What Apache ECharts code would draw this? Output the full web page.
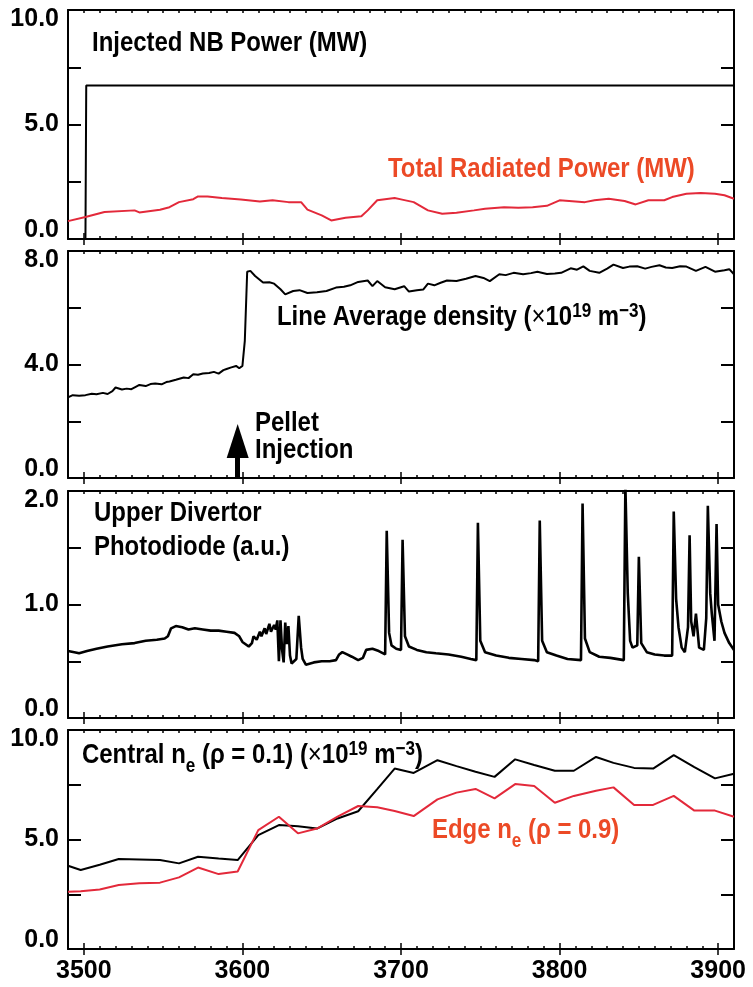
<!DOCTYPE html>
<html><head><meta charset="utf-8">
<script src="https://cdn.jsdelivr.net/npm/echarts@6/dist/echarts.min.js"></script>
<style>html,body{margin:0;padding:0;background:#fff}#c{width:753px;height:987px}</style>
</head><body><div id="c"></div>
<script>
// ---------- data ----------
const xTickLabels = [3500, 3600, 3700, 3800, 3900];

const nbTime  = [3490, 3501, 3501.5, 3910];
const nbPower = [0, 0, 6.7, 6.7];

const radTime  = [3490,3501,3513,3532,3535,3548,3554,3560,3569,3572,3578,3587,3599,3611,3619,3629,3637,3641,3650,3656,3665,3675,3679,3685,3696,3700,3708,3717,3726,3735,3746,3753,3765,3774,3783,3792,3800,3816,3822,3831,3841,3848,3856,3866,3871,3880,3889,3898,3904,3910];
const radPower = [0.78,0.96,1.18,1.25,1.16,1.28,1.39,1.61,1.74,1.86,1.86,1.79,1.72,1.64,1.69,1.61,1.61,1.28,1.03,0.81,0.93,0.99,1.25,1.69,1.79,1.73,1.61,1.25,1.10,1.15,1.25,1.32,1.39,1.36,1.39,1.45,1.69,1.61,1.69,1.76,1.66,1.51,1.69,1.69,1.83,1.98,2.01,1.98,1.91,1.76];

const densTime = [3490,3493,3497,3501,3505,3508,3512,3515,3518,3520,3524,3527,3530,3533,3535,3539,3542,3545,3549,3552,3554,3558,3563,3566,3569,3572,3575,3579,3582,3585,3588,3590,3593,3596,3598,3600,3601.5,3603,3605,3608,3613,3617,3620,3624,3627,3632,3636,3641,3647,3653,3659,3664,3668,3673,3679,3682,3685,3690,3696,3702,3705,3710,3714,3717,3721,3725,3729,3735,3741,3747,3752,3756,3762,3766,3771,3777,3782,3786,3792,3797,3801,3807,3811,3815,3819,3825,3830,3834,3840,3844,3849,3854,3858,3863,3867,3871,3876,3880,3886,3892,3898,3904,3907,3910];
const densVal  = [2.84,2.92,2.90,2.92,2.97,2.95,3.00,2.96,3.06,3.19,3.12,3.15,3.13,3.22,3.28,3.24,3.31,3.33,3.30,3.38,3.40,3.46,3.54,3.52,3.66,3.64,3.68,3.70,3.74,3.68,3.80,3.84,3.90,3.95,3.87,3.95,4.83,7.27,7.30,7.12,6.89,6.90,6.85,6.65,6.47,6.59,6.62,6.52,6.55,6.59,6.71,6.74,6.79,6.91,6.96,6.76,6.94,6.72,6.65,6.76,6.57,6.62,6.64,6.85,6.79,6.88,6.96,6.94,7.02,7.12,7.05,6.94,7.18,7.15,7.23,7.18,7.22,7.27,7.19,7.21,7.23,7.39,7.34,7.46,7.30,7.23,7.38,7.52,7.40,7.45,7.46,7.38,7.44,7.50,7.42,7.40,7.46,7.45,7.30,7.44,7.27,7.32,7.36,7.18];

const pdTime = [3490,3494,3497,3502,3508,3515,3524,3532,3539,3546,3551,3553,3555,3558,3562,3566,3570,3575,3580,3585,3590,3595,3598,3600,3604,3606,3607,3609,3611,3612,3614,3615,3617,3618,3620,3621,3622,3623,3624,3625,3626,3627,3628,3629,3630,3631,3634,3635.5,3637,3638,3640,3645,3650,3655,3659,3661,3663,3666,3669,3673,3676,3678,3682,3686,3690,3691,3692.5,3694,3697,3700,3701,3702.5,3705,3710,3716,3722,3730,3738,3744,3747.5,3748.5,3750,3753,3760,3768,3776,3784,3786.5,3787.5,3789,3792,3798,3805,3813.5,3814.5,3816,3819,3825,3832,3840.5,3841.5,3843,3844.5,3846,3849,3850,3851.5,3855,3860,3866,3871,3872,3873.5,3875,3877,3879,3881,3882,3883,3884.5,3886,3888,3891,3892.5,3893.5,3895,3896,3897.7,3899,3900,3902,3904,3907,3910];
const pdVal  = [0.59,0.58,0.57,0.59,0.61,0.63,0.65,0.66,0.68,0.69,0.70,0.72,0.79,0.81,0.80,0.78,0.79,0.78,0.77,0.77,0.76,0.75,0.72,0.67,0.63,0.66,0.72,0.69,0.76,0.72,0.79,0.74,0.83,0.76,0.82,0.78,0.86,0.50,0.86,0.60,0.49,0.84,0.65,0.81,0.55,0.48,0.52,0.90,0.62,0.52,0.47,0.49,0.50,0.50,0.51,0.56,0.58,0.56,0.54,0.51,0.53,0.60,0.61,0.59,0.56,1.65,0.75,0.64,0.61,0.60,1.57,0.72,0.63,0.60,0.58,0.57,0.56,0.54,0.52,0.51,1.72,0.68,0.58,0.55,0.53,0.52,0.51,0.50,1.74,0.68,0.58,0.55,0.52,0.51,1.89,0.70,0.58,0.54,0.53,0.51,2.05,1.10,0.68,0.62,0.64,1.42,0.66,0.58,0.56,0.55,0.55,1.82,1.05,0.80,0.62,0.58,0.80,1.61,0.85,0.72,0.92,0.62,0.60,0.88,1.87,1.10,0.92,0.68,1.71,1.00,0.85,0.75,0.66,0.60,0.56,0.57];

const neTime    = [3490,3498,3510,3522,3535,3548,3560,3572,3585,3597,3610,3623,3635,3647,3660,3673,3685,3696,3708,3723,3735,3747,3759,3772,3784,3797,3809,3823,3834,3847,3859,3872,3885,3898,3910];
const neCentral = [3.80,3.61,3.85,4.11,4.09,4.06,3.91,4.21,4.13,4.06,5.20,5.66,5.60,5.50,5.96,6.29,7.30,8.24,8.04,8.62,8.35,8.09,7.86,8.66,8.40,8.14,8.14,8.77,8.50,8.27,8.24,8.85,8.30,7.79,8.00];
const neEdge    = [2.61,2.64,2.72,2.92,3.00,3.03,3.27,3.72,3.42,3.54,5.43,6.04,5.28,5.50,6.04,6.53,6.47,6.30,6.07,6.83,7.14,7.31,6.88,7.53,7.44,6.68,6.99,7.23,7.38,6.58,6.58,6.99,6.32,6.32,6.04];

// pellet injection arrow (time, base value, head centre value)
const pelletTime = 3597;
const pelletArrow = [0, 1.3];

// ---------- helpers ----------
const FF = "'Liberation Sans',Arial,sans-serif";
const RED_LINE = '#e3293a';
const RED_TEXT = '#ec4a26';
const zip = (a, b) => a.map((v, i) => [v, b[i]]);

const grids = [
  {top: 10,  height: 229, min: 0, max: 10, interval: 2.5, labels: [0, 5, 10]},
  {top: 251, height: 227, min: 0, max: 8,  interval: 2,   labels: [0, 4, 8]},
  {top: 491, height: 227, min: 0, max: 2,  interval: 0.5, labels: [0, 1, 2]},
  {top: 730, height: 219, min: 0, max: 10, interval: 2.5, labels: [0, 5, 10]}
];

const TL = 25; // tick label font size
const labelRich = {
  mx: {fontSize: TL, fontWeight: 'bold', fontFamily: FF, color: '#000', lineHeight: 18, padding: [18, 0, 0, 0]},
  mn: {fontSize: TL, fontWeight: 'bold', fontFamily: FF, color: '#000', lineHeight: 18, padding: [0, 0, 18, 0]},
  md: {fontSize: TL, fontWeight: 'bold', fontFamily: FF, color: '#000', lineHeight: 18}
};

const xAxes = [], yAxes = [], gridOpts = [];
grids.forEach((g, gi) => {
  gridOpts.push({left: 68, right: 19, top: g.top, height: g.height, containLabel: false, outerBoundsMode: 'none'});
  const baseX = {
    type: 'value', gridIndex: gi, min: 3490, max: 3910, interval: 10,
    splitLine: {show: false}, axisPointer: {show: false}
  };
  xAxes.push(Object.assign({}, baseX, {
    position: 'bottom',
    axisLine: {show: true, onZero: false, lineStyle: {color: '#000', width: 2}},
    axisTick: {show: true, inside: true, length: 3, lineStyle: {color: '#000', width: 1.5}},
    axisLabel: {
      show: gi === 3, margin: 10, fontSize: TL, fontWeight: 'bold', fontFamily: FF, color: '#000',
      hideOverlap: false,
      formatter: v => (Math.abs(v % 100) < 1e-6 ? String(v) : '')
    }
  }));
  xAxes.push(Object.assign({}, baseX, {
    position: 'bottom',
    axisLine: {show: false},
    axisTick: {show: true, inside: true, length: 6, customValues: xTickLabels, lineStyle: {color: '#000', width: 1.5}},
    axisLabel: {show: false}
  }));
  xAxes.push(Object.assign({}, baseX, {
    position: 'top',
    axisLine: {show: true, onZero: false, lineStyle: {color: '#000', width: 2}},
    axisTick: {show: true, inside: true, length: 3, lineStyle: {color: '#000', width: 1.5}},
    axisLabel: {show: false}
  }));
  xAxes.push(Object.assign({}, baseX, {
    position: 'top',
    axisLine: {show: false},
    axisTick: {show: true, inside: true, length: 6, customValues: xTickLabels, lineStyle: {color: '#000', width: 1.5}},
    axisLabel: {show: false}
  }));

  const baseY = {
    type: 'value', gridIndex: gi, min: g.min, max: g.max, interval: g.interval,
    splitLine: {show: false},
    axisLine: {show: true, onZero: false, lineStyle: {color: '#000', width: 2}},
    axisTick: {show: true, inside: true, length: 13, lineStyle: {color: '#000', width: 2}}
  };
  yAxes.push(Object.assign({}, baseY, {
    position: 'left',
    axisLabel: {
      show: true, margin: 9, rich: labelRich, fontSize: TL, fontWeight: 'bold', fontFamily: FF, color: '#000',
      hideOverlap: false,
      formatter: v => {
        if (!g.labels.some(l => Math.abs(l - v) < 1e-9)) return '';
        const t = v.toFixed(1);
        if (Math.abs(v - g.max) < 1e-9) return '{mx|' + t + '}';
        if (Math.abs(v - g.min) < 1e-9) return '{mn|' + t + '}';
        return '{md|' + t + '}';
      }
    }
  }));
  yAxes.push(Object.assign({}, baseY, {position: 'right', axisLabel: {show: false}}));
});

function lineSeries(gi, data, color, extra) {
  return Object.assign({
    type: 'line', xAxisIndex: gi * 4, yAxisIndex: gi * 2, data: data,
    showSymbol: false, symbol: 'none', smooth: false, clip: true, animation: false,
    lineStyle: {color: color, width: 2}, z: 3
  }, extra || {});
}

const series = [
  lineSeries(0, zip(nbTime, nbPower), '#000'),
  lineSeries(0, zip(radTime, radPower), RED_LINE),
  lineSeries(1, zip(densTime, densVal), '#000', {
    markLine: {
      silent: true, animation: false, symbol: ['none', 'triangle'], symbolSize: [22, 34],
      label: {show: false}, emphasis: {disabled: true},
      lineStyle: {color: '#000', width: 5, type: 'solid'},
      itemStyle: {color: '#000'},
      data: [[{coord: [pelletTime, pelletArrow[0]]}, {coord: [pelletTime, pelletArrow[1]]}]]
    }
  }),
  lineSeries(2, zip(pdTime, pdVal), '#000', {lineStyle: {color: '#000', width: 2.6}}),
  lineSeries(3, zip(neTime, neCentral), '#000'),
  lineSeries(3, zip(neTime, neEdge), RED_LINE)
];

// ---------- annotations ----------
const AF = 28;       // annotation font size
const SX = 0.855;    // horizontal condensing to mimic a narrow face
const tr = (c) => ({
  m:   {fontSize: AF, lineHeight: AF, padding: [2, 0, 0, 0], fontWeight: 'bold', fontFamily: FF, fill: c, verticalAlign: 'top'},
  sup: {fontSize: 20, lineHeight: 20, padding: [0, 0, 0, 0], fontWeight: 'bold', fontFamily: FF, fill: c, verticalAlign: 'top'},
  sub: {fontSize: 20, lineHeight: 20, padding: [17, 0, 0, 0], fontWeight: 'bold', fontFamily: FF, fill: c, verticalAlign: 'top'},
  sym: {fontSize: AF, lineHeight: AF, padding: [2, 0, 0, 0], fontWeight: 'normal', fontFamily: FF, fill: c, verticalAlign: 'top'}
});
function txt(x, y, text, color) {
  return {type: 'text', x: x, y: y, scaleX: SX, silent: true, z: 10,
    style: {text: text, rich: tr(color), fill: color, align: 'left', verticalAlign: 'top',
      fontSize: AF, fontWeight: 'bold', fontFamily: FF}};
}
const graphic = [
  txt(92, 27.5, '{m|Injected NB Power (MW)}', '#000'),
  txt(388, 153.5, '{m|Total Radiated Power (MW)}', RED_TEXT),
  txt(277, 301, '{m|Line Average density (}{sym|\u00d7}{m|10}{sup|19}{m| m}{sup|\u22123}{m|)}', '#000'),
  txt(255, 407.5, '{m|Pellet}', '#000'),
  txt(255, 434.5, '{m|Injection}', '#000'),
  txt(94, 497.5, '{m|Upper Divertor}', '#000'),
  txt(94, 531.5, '{m|Photodiode (a.u.)}', '#000'),
  txt(82, 739.5, '{m|Central n}{sub|e}{m| (\u03c1 = 0.1) (}{sym|\u00d7}{m|10}{sup|19}{m| m}{sup|\u22123}{m|)}', '#000'),
  txt(432, 814.5, '{m|Edge n}{sub|e}{m| (\u03c1 = 0.9)}', RED_TEXT)
];

const chart = echarts.init(document.getElementById('c'), null, {renderer: 'canvas'});
chart.setOption({
  animation: false,
  backgroundColor: '#fff',
  grid: gridOpts,
  xAxis: xAxes,
  yAxis: yAxes,
  series: series,
  graphic: graphic
});
</script>
</body></html>
